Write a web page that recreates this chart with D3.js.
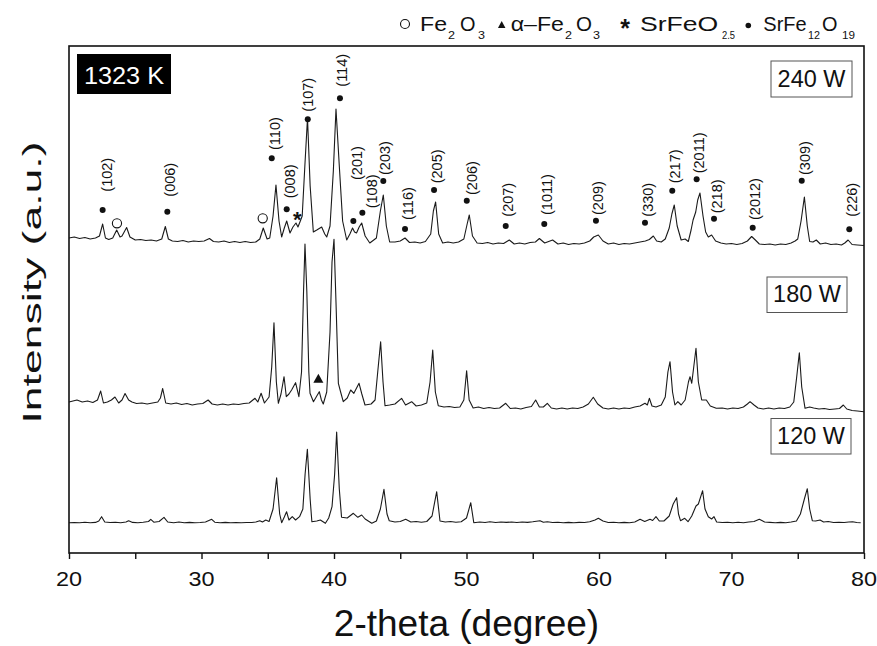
<!DOCTYPE html>
<html><head><meta charset="utf-8">
<script src="https://cdn.jsdelivr.net/npm/d3@7"></script>
<style>
html,body{margin:0;padding:0;background:#fff;}
svg{display:block;font-family:"Liberation Sans",Arial,sans-serif;}
</style></head>
<body><svg id="c" width="877" height="646"></svg>
<script>
// ---------- data ----------
const xTicks = [20,25,30,35,40,45,50,55,60,65,70,75,80];
const xTickLabels = ["20","","30","","40","","50","","60","","70","","80"];
const traceNames = ["240 W","180 W","120 W"];
const traceOffsets = [307, 141, 29];

const p240 = [[20.0,8],[20.4,9],[20.8,7.5],[21.2,8.5],[21.6,7],[22.0,8],[22.3,10],[22.54,22],[22.75,8],[23.0,6.5],[23.3,8],[23.6,16],[23.85,9],[24.0,10],[24.35,18.5],[24.6,9],[25.0,6],[25.4,6.5],[25.8,5.5],[26.2,6],[26.6,5],[27.0,7],[27.27,19.5],[27.5,7],[27.8,5],[28.2,4.5],[28.6,5.5],[29.0,4],[29.4,5],[29.8,4.5],[30.2,5],[30.6,7.5],[30.9,4.5],[31.3,4],[31.7,5],[32.1,3.5],[32.5,4.5],[32.9,3.5],[33.3,4.5],[33.7,3.5],[34.1,4],[34.4,7],[34.66,18],[34.95,7],[35.15,8],[35.4,30],[35.62,61],[35.85,25],[36.05,9],[36.25,18],[36.43,25],[36.68,13],[36.9,19],[37.13,23],[37.28,19],[37.43,24],[37.6,30],[37.8,80],[38.0,128],[38.2,60],[38.44,14],[38.7,16],[39.07,19],[39.3,12],[39.45,9],[39.7,20],[39.95,75],[40.15,137],[40.4,80],[40.65,25],[40.96,6],[41.2,12],[41.4,18],[41.55,14],[41.7,13],[41.9,19],[42.09,23],[42.35,10],[42.7,3],[43.2,8],[43.5,35],[43.72,51],[43.95,20],[44.2,4],[44.6,4],[45.0,5],[45.36,8],[45.7,3.5],[46.1,4],[46.5,3],[46.9,4.5],[47.3,12],[47.5,35],[47.67,44],[47.9,12],[48.2,3],[48.6,4],[49.0,3],[49.4,4],[49.8,7],[50.05,22],[50.21,31],[50.45,10],[50.8,3],[51.2,2.5],[51.6,3.5],[52.0,2],[52.4,3],[52.8,2.5],[53.23,6],[53.6,2],[54.0,3],[54.4,2],[54.8,3.5],[55.2,4],[55.5,7.5],[55.9,3],[56.2,4.5],[56.5,6],[56.9,2],[57.3,3],[57.7,1.5],[58.1,2.5],[58.5,2],[58.9,3],[59.3,5],[59.6,9],[59.95,11],[60.3,5],[60.7,2],[61.1,3],[61.5,1.5],[61.9,2.5],[62.3,2],[62.7,3],[63.1,4],[63.5,5],[63.8,6.5],[64.1,10],[64.35,5],[64.7,4],[65.0,7],[65.3,18],[65.5,32],[65.68,41],[65.9,20],[66.2,6],[66.5,7],[66.74,4.5],[66.95,16],[67.1,26],[67.3,34],[67.45,46],[67.62,53],[67.85,30],[68.05,14],[68.25,9],[68.5,11],[68.8,5],[69.2,3],[69.6,2],[70.0,2.5],[70.4,1.5],[70.8,2.5],[71.2,5],[71.52,9.5],[71.8,6],[72.1,2],[72.5,1.5],[72.9,2],[73.3,1],[73.7,2],[74.1,1.5],[74.5,3],[74.8,5],[75.0,7],[75.25,25],[75.5,49],[75.72,20],[75.9,4.5],[76.15,4],[76.4,6],[76.7,2],[77.1,3],[77.5,1.5],[77.9,2],[78.3,1],[78.55,3],[78.8,6],[79.1,1.5],[79.5,1],[80.0,0.5]];

const p180 = [[20.0,10],[20.3,11],[20.6,12],[21.0,10],[21.4,11],[21.8,9.5],[22.15,12],[22.39,21],[22.6,9],[22.9,10],[23.2,12],[23.47,15],[23.75,9],[24.0,12],[24.23,18.5],[24.5,12],[24.75,10],[25.1,8.5],[25.5,9],[25.9,8],[26.3,9],[26.7,10],[26.9,14],[27.07,23.5],[27.3,9],[27.7,8],[28.1,9],[28.5,7.5],[28.9,8.5],[29.3,7],[29.7,8],[30.1,8.5],[30.5,12],[30.8,8],[31.2,7],[31.6,8],[32.0,7],[32.4,8],[32.8,7.5],[33.2,8.5],[33.6,9],[34.04,13.7],[34.25,10],[34.5,18.7],[34.75,9],[35.1,15],[35.3,45],[35.47,89.3],[35.65,30],[35.8,8.7],[36.0,18],[36.23,35.3],[36.4,15.3],[36.6,18],[36.8,22],[37.1,29.3],[37.35,15.3],[37.55,40],[37.7,120],[37.81,168],[37.95,120],[38.1,40],[38.19,18.7],[38.45,10.3],[38.7,16],[38.89,20.3],[39.05,12],[39.19,8],[39.45,20],[39.7,80],[39.85,150],[40.0,172.7],[40.15,110],[40.33,28.7],[40.5,20],[40.7,10.3],[41.0,14],[41.26,22],[41.5,18.7],[41.89,28.7],[42.1,18],[42.34,7],[42.8,8],[43.1,12],[43.3,40],[43.52,70.3],[43.7,30],[43.85,6.3],[44.2,7],[44.6,8],[45.1,13.7],[45.4,7],[45.86,10.3],[46.2,6],[46.6,7],[47.0,9],[47.25,30],[47.45,62],[47.65,20],[47.87,6.3],[48.3,5],[48.7,5.5],[49.1,4.5],[49.5,5],[49.8,12],[50.01,41.3],[50.2,12],[50.5,4],[50.9,5],[51.3,3.5],[51.7,4.5],[52.1,3.5],[52.5,4],[52.96,8.7],[53.3,3.5],[53.7,4],[54.1,3],[54.5,4.5],[54.9,5.5],[55.22,12],[55.5,5],[55.8,5],[56.1,8.7],[56.4,4],[56.8,3],[57.2,4],[57.6,3],[58.0,4],[58.4,3.5],[58.8,5],[59.2,8],[59.57,14.7],[59.9,8],[60.3,4],[60.7,3],[61.1,4],[61.5,3],[61.9,4],[62.3,3.5],[62.7,5],[63.1,6],[63.47,8.7],[63.65,7],[63.8,13.7],[64.0,6],[64.3,5],[64.7,7],[65.0,15],[65.2,40],[65.36,50.3],[65.55,20],[65.73,7],[65.95,10.3],[66.2,7],[66.5,12],[66.75,30],[66.87,35.3],[67.0,28.7],[67.15,45],[67.32,63.7],[67.5,30],[67.75,12],[68.1,12],[68.4,6],[68.85,3.7],[69.3,4],[69.7,3],[70.1,4],[70.5,3.5],[70.9,5],[71.2,8],[71.4,10.3],[71.7,7],[72.0,4],[72.4,3],[72.8,4],[73.2,3],[73.6,4],[74.0,3.5],[74.4,5],[74.7,10],[74.92,35],[75.12,59.3],[75.3,25],[75.55,3.7],[75.9,5],[76.2,4],[76.6,3],[77.0,3.5],[77.4,2.5],[77.8,3],[78.15,3.5],[78.44,7],[78.7,3],[79.1,1.5],[79.5,1],[80.0,0.3]];

const p120 = [[20.0,1.3],[20.4,1.5],[20.8,1.2],[21.2,1.8],[21.6,1.3],[22.0,1.6],[22.25,3],[22.46,7.3],[22.7,2],[23.1,1.5],[23.5,1.8],[23.9,1.3],[24.3,2],[24.5,3.3],[24.8,1.6],[25.2,1.3],[25.6,1.7],[26.0,2.5],[26.17,4.7],[26.4,1.8],[26.8,2.5],[27.17,6.7],[27.45,2],[27.9,1.3],[28.3,2],[28.7,1.2],[29.1,1.6],[29.5,1.2],[29.9,1.5],[30.3,2],[30.77,4.7],[31.0,1.8],[31.4,1.3],[31.8,1.6],[32.2,1.2],[32.6,1.5],[33.0,1.2],[33.4,1.5],[33.8,1.5],[34.1,2],[34.4,3.3],[34.6,2],[34.85,4],[35.1,2.5],[35.4,15],[35.67,46.3],[35.9,10],[36.05,1.3],[36.25,7],[36.42,12.3],[36.6,4],[36.85,7.3],[37.1,4],[37.4,7.3],[37.65,15],[37.82,50],[37.99,74.7],[38.2,25],[38.33,2.3],[38.7,3],[38.97,4],[39.35,0.7],[39.6,6],[39.85,17.3],[40.05,50],[40.2,92],[40.4,35],[40.57,6.7],[41.0,6],[41.46,10.7],[41.8,6.7],[42.09,9],[42.35,5],[42.85,0.7],[43.2,3],[43.5,15],[43.77,34.7],[44.0,10],[44.17,3.3],[44.6,2],[45.0,2.5],[45.41,4.7],[45.8,2],[46.2,2.5],[46.6,1.8],[47.0,2.5],[47.4,8],[47.75,32.3],[48.0,3],[48.4,2],[48.8,2.5],[49.2,1.8],[49.6,2.2],[50.0,6],[50.32,21.3],[50.55,1.3],[51.0,2],[51.4,1.5],[51.77,2.3],[52.2,1.5],[52.6,2],[53.0,1.6],[53.4,2],[53.8,1.5],[54.2,2],[54.6,1.6],[55.0,2.2],[55.55,3.3],[55.8,1.8],[56.1,2.3],[56.5,1.5],[56.9,1.8],[57.3,1.3],[57.7,1.6],[58.1,1.3],[58.5,1.6],[58.9,1.5],[59.3,2.2],[59.7,4],[59.95,5.7],[60.3,3],[60.7,1.5],[61.1,1.8],[61.5,1.3],[61.9,1.6],[62.3,1.3],[62.7,2],[63.1,4.7],[63.45,2.5],[63.85,4.7],[64.05,3.5],[64.3,7.3],[64.55,3],[64.9,3],[65.3,8],[65.6,20],[65.86,26.3],[66.0,10],[66.15,3.3],[66.47,5.7],[66.72,2.3],[67.0,8],[67.32,18],[67.5,20],[67.82,33.3],[68.0,15],[68.25,7.3],[68.5,5],[68.68,7.3],[68.88,2],[69.3,1.5],[69.7,1.8],[70.1,1.3],[70.5,1.7],[70.9,1.3],[71.3,2],[71.7,2.5],[72.1,4.7],[72.5,2],[72.9,1.6],[73.3,1.3],[73.7,1.6],[74.1,1.3],[74.5,2],[74.9,3],[75.2,10],[75.5,25],[75.72,35.3],[75.9,15],[76.1,3.3],[76.35,3],[76.68,4],[76.95,2],[77.3,2.5],[77.7,1.5],[78.1,1.8],[78.5,1.5],[78.85,2],[79.14,2.3],[79.45,1.5],[79.75,1.3]];

const traces = [p240, p180, p120];

// SrFe12O19 reflections on the 240 W pattern
const hklLabels = ["(102)","(006)","(110)","(008)","(107)","(114)","(201)","(108)","(203)","(116)","(205)","(206)","(207)","(1011)","(209)","(330)","(217)","(2011)","(218)","(2012)","(309)","(226)"];
const hklDot = [[22.54,343],[27.42,341.3],[35.30,394.7],[36.43,343.7],[38.02,433.7],[40.45,454.7],[41.46,332],[42.14,340.3],[43.72,372],[45.36,324],[47.55,363],[50.02,352.3],[52.96,327],[55.87,329],[59.77,332.3],[63.47,330.3],[65.53,362.3],[67.37,373.7],[68.68,334.3],[71.6,325.3],[75.3,372.3],[78.89,323.7]];
const hklText = [[22.84,361.3],[27.62,356.3],[35.55,403],[36.68,354.7],[38.06,441.3],[40.58,466.3],[41.71,373],[42.85,344.7],[43.85,378],[45.61,333],[47.75,369.7],[50.39,358],[53.16,336.3],[56.05,338],[59.95,338],[63.72,336.3],[65.74,369.7],[67.57,379.7],[68.88,339.7],[71.77,333],[75.55,378],[79.07,336.3]];
const fe2o3Marks = [[23.62,329.7],[34.62,334.7]];
const srfeoMarks = [[37.23,339]];
const alphaMarks = [[38.82,174.7]];

// ---------- drawing ----------
const svg = d3.select("#c");
const M = {l:69, r:864, t:46, b:553};
const x = d3.scaleLinear().domain([20,80]).range([M.l, M.r]);
const y = d3.scaleLinear().domain([0,507]).range([M.b, M.t]);
const ink = "#111";

function stext(g, str, px, py, size, k, anchor, opts) {
  opts = opts || {};
  const t = g.append("text")
    .attr("transform", `translate(${px},${py}) scale(${k},1)`)
    .attr("text-anchor", anchor)
    .attr("font-size", size)
    .attr("fill", opts.fill || ink)
    .text(str);
  if (opts.bold) t.attr("font-weight", "bold");
  return t;
}

// traces
const line = (off) => d3.line().x(d => x(d[0])).y(d => y(off + d[1]));
traces.forEach((tr, i) => {
  svg.append("path").datum(tr)
    .attr("d", line(traceOffsets[i]))
    .attr("fill", "none").attr("stroke", "#1a1a1a").attr("stroke-width", 1.1)
    .attr("stroke-linejoin", "round");
});

// frame
svg.append("rect").attr("x", M.l).attr("y", M.t)
  .attr("width", M.r - M.l).attr("height", M.b - M.t)
  .attr("fill", "none").attr("stroke", ink).attr("stroke-width", 1.6);

// bottom axis ticks
const ax = svg.append("g").attr("transform", `translate(0,${M.b})`)
  .call(d3.axisBottom(x).tickValues(xTicks).tickSize(6).tickFormat(""));
ax.select(".domain").remove();
ax.selectAll(".tick line").attr("stroke", ink).attr("stroke-width", 1.4);

// tick labels
const tl = svg.append("g");
xTicks.forEach((v, i) => {
  if (xTickLabels[i]) stext(tl, xTickLabels[i], x(v), 586, 19.5, 1.2, "middle");
});

// axis titles
svg.append("text").attr("x", (M.l + M.r) / 2).attr("y", 636)
  .attr("text-anchor", "middle").attr("font-size", 37).attr("fill", ink)
  .text("2-theta (degree)");
svg.append("text")
  .attr("transform", "translate(41,282.5) rotate(-90)")
  .attr("text-anchor", "middle").attr("font-size", 25).attr("fill", ink)
  .attr("textLength", 282).attr("lengthAdjust", "spacingAndGlyphs")
  .text("Intensity (a.u.)");

// hkl dots and labels
const ann = svg.append("g");
hklDot.forEach(d => {
  ann.append("circle").attr("cx", x(d[0])).attr("cy", y(d[1])).attr("r", 3).attr("fill", ink);
});
hklText.forEach((d, i) => {
  ann.append("text")
    .attr("transform", `translate(${x(d[0])},${y(d[1])}) rotate(-90)`)
    .attr("text-anchor", "start").attr("dominant-baseline", "central")
    .attr("font-size", 14.5).attr("fill", ink).text(hklLabels[i]);
});
fe2o3Marks.forEach(d => {
  ann.append("circle").attr("cx", x(d[0])).attr("cy", y(d[1])).attr("r", 4.6)
    .attr("fill", "#fff").attr("stroke", ink).attr("stroke-width", 1.1);
});
srfeoMarks.forEach(d => {
  ann.append("text").attr("x", x(d[0])).attr("y", y(d[1]) + 12.5)
    .attr("text-anchor", "middle").attr("font-size", 22).attr("font-weight", "bold")
    .attr("fill", ink).text("*");
});
const tri = (cx, cy, w, h) => `M${cx - w/2},${cy + h/2}L${cx + w/2},${cy + h/2}L${cx},${cy - h/2}Z`;
alphaMarks.forEach(d => {
  ann.append("path").attr("d", tri(x(d[0]), y(d[1]), 10, 9)).attr("fill", ink);
});

// sample temperature box
svg.append("rect").attr("x", 77).attr("y", 54).attr("width", 94).attr("height", 40).attr("fill", "#000");
stext(svg, "1323 K", 124, 83.5, 23, 1.1, "middle", {fill: "#fff"});

// power boxes
const boxes = [[771, 61, 81, 36], [767, 277, 80, 35.5], [771, 418.5, 80, 35.5]];
traceNames.forEach((n, i) => {
  const b = boxes[i];
  svg.append("rect").attr("x", b[0]).attr("y", b[1]).attr("width", b[2]).attr("height", b[3])
    .attr("fill", "#fff").attr("stroke", "#555").attr("stroke-width", 1);
  stext(svg, n, b[0] + b[2] / 2, b[1] + b[3] - 10.5, 23, 1.02, "middle");
});

// legend
const lg = svg.append("g");
const lt = (str, px, len, sub) => {
  lg.append("text").attr("x", px).attr("y", sub ? 39 : 30.5)
    .attr("font-size", sub ? 11 : 21).attr("fill", ink)
    .attr("textLength", len).attr("lengthAdjust", "spacingAndGlyphs").text(str);
};
lg.append("circle").attr("cx", 405).attr("cy", 24).attr("r", 4.5)
  .attr("fill", "none").attr("stroke", ink).attr("stroke-width", 1.1);
lt("Fe", 420, 27); lt("2", 448, 7, true); lt("O", 460, 15.5); lt("3", 478, 7, true);
lg.append("path").attr("d", tri(501.7, 24.5, 7.5, 7)).attr("fill", ink);
lt("\u03b1\u2013Fe", 510.7, 53.3); lt("2", 565, 7, true); lt("O", 576, 16); lt("3", 593, 7, true);
lg.append("text").attr("x", 625).attr("y", 37).attr("text-anchor", "middle")
  .attr("font-size", 25).attr("font-weight", "bold").attr("fill", ink).text("*");
lt("SrFeO", 640, 78.3); lt("2.5", 722, 13, true);
lg.append("circle").attr("cx", 748.3).attr("cy", 25.5).attr("r", 2.8).attr("fill", ink);
lt("SrFe", 763.3, 43.4); lt("12", 808, 12, true); lt("O", 822, 15.5); lt("19", 842, 13, true);
</script></body></html>
